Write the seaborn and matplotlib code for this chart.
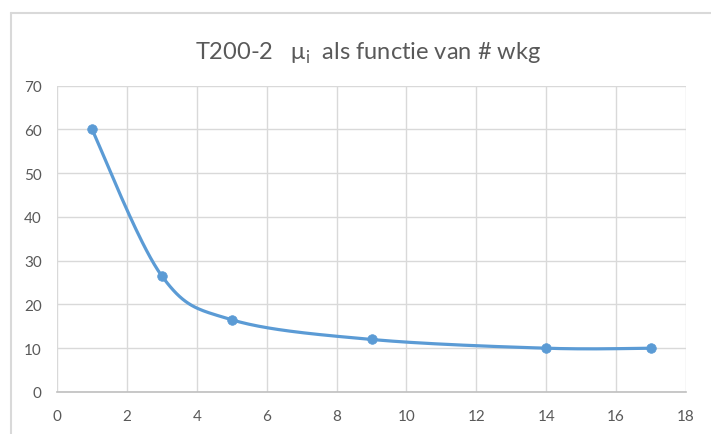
import numpy as np
import pandas as pd
import matplotlib
matplotlib.use("Agg")
import matplotlib.pyplot as plt
from matplotlib.lines import Line2D
import seaborn as sns

# Measured permeability vs. number of windings
windings = [1, 3, 5, 9, 14, 17]
mu_i = [60, 26.5, 16.5, 12, 10, 10]
x_ticks = [0, 2, 4, 6, 8, 10, 12, 14, 16, 18]
y_ticks = [0, 10, 20, 30, 40, 50, 60, 70]
title_text = "T200-2   μ$_{\\mathregular{i}}$  als functie van # wkg"

sns.set_theme(style="white")
plt.rcParams["font.family"] = ["Lato", "DejaVu Sans"]
plt.rcParams["mathtext.fontset"] = "custom"
plt.rcParams["mathtext.rm"] = "Lato"

W, H = 711, 435
fig = plt.figure(figsize=(W / 100, H / 100), dpi=100)
ax = fig.add_axes([57 / W, 1 - 393 / H, (686 - 57) / W, (393 - 86.5) / H])

ax.set_xlim(0, 18)
ax.set_ylim(0, 70)

# Smoothed line (Catmull-Rom through the points, in screen proportions)
def smooth(xs, ys, sx, sy, n=40):
    P = np.column_stack([np.asarray(xs, float) * sx, np.asarray(ys, float) * sy])
    P = np.vstack([P[0], P, P[-1]])
    out = []
    for i in range(1, len(P) - 2):
        p0, p1, p2, p3 = P[i - 1], P[i], P[i + 1], P[i + 2]
        c1 = p1 + (p2 - p0) / 6
        c2 = p2 - (p3 - p1) / 6
        t = np.linspace(0, 1, n)[:, None]
        seg = ((1 - t) ** 3) * p1 + 3 * ((1 - t) ** 2) * t * c1 + 3 * (1 - t) * t ** 2 * c2 + t ** 3 * p2
        out.append(seg if i == 1 else seg[1:])
    pts = np.vstack(out)
    return pts[:, 0] / sx, pts[:, 1] / sy

sx = (686 - 57) / 18
sy = (393 - 86.5) / 70
cx, cy = smooth(windings, mu_i, sx, sy)
curve = pd.DataFrame({"x": cx, "y": cy})
pts = pd.DataFrame({"wkg": windings, "mu": mu_i})

blue = "#5B9BD5"
sns.lineplot(data=curve, x="x", y="y", sort=False, color=blue, linewidth=2.3,
             ax=ax, zorder=3)
sns.scatterplot(data=pts, x="wkg", y="mu", color=blue, s=48, edgecolor=blue,
                linewidth=0.5, ax=ax, zorder=4)

ax.set_xticks(x_ticks)
ax.set_yticks(y_ticks)
ax.set_xticklabels([str(v) for v in x_ticks])
ax.set_yticklabels([str(v) for v in y_ticks])
ax.grid(True, color="#D9D9D9", linewidth=1.0)
ax.set_axisbelow(True)
for side in ["top", "right", "left"]:
    ax.spines[side].set_visible(False)
ax.spines["bottom"].set_color("#BFBFBF")
ax.spines["bottom"].set_linewidth(1.2)
ax.tick_params(axis="both", length=0, labelsize=11, colors="#595959")
ax.tick_params(axis="y", pad=11)
ax.tick_params(axis="x", pad=12)
ax.set_xlabel("")
ax.set_ylabel("")

fig.text(368 / W, 1 - 60 / H, title_text, ha="center", va="baseline",
         fontsize=17, color="#595959")

# Chart area frame
fig.add_artist(Line2D([11 / W, 1], [1 - 14 / H, 1 - 14 / H], color="#D9D9D9",
                      linewidth=1.5, transform=fig.transFigure))
fig.add_artist(Line2D([11 / W, 11 / W], [0, 1 - 14 / H], color="#D9D9D9",
                      linewidth=1.5, transform=fig.transFigure))

fig.savefig("out.png", dpi=100)
